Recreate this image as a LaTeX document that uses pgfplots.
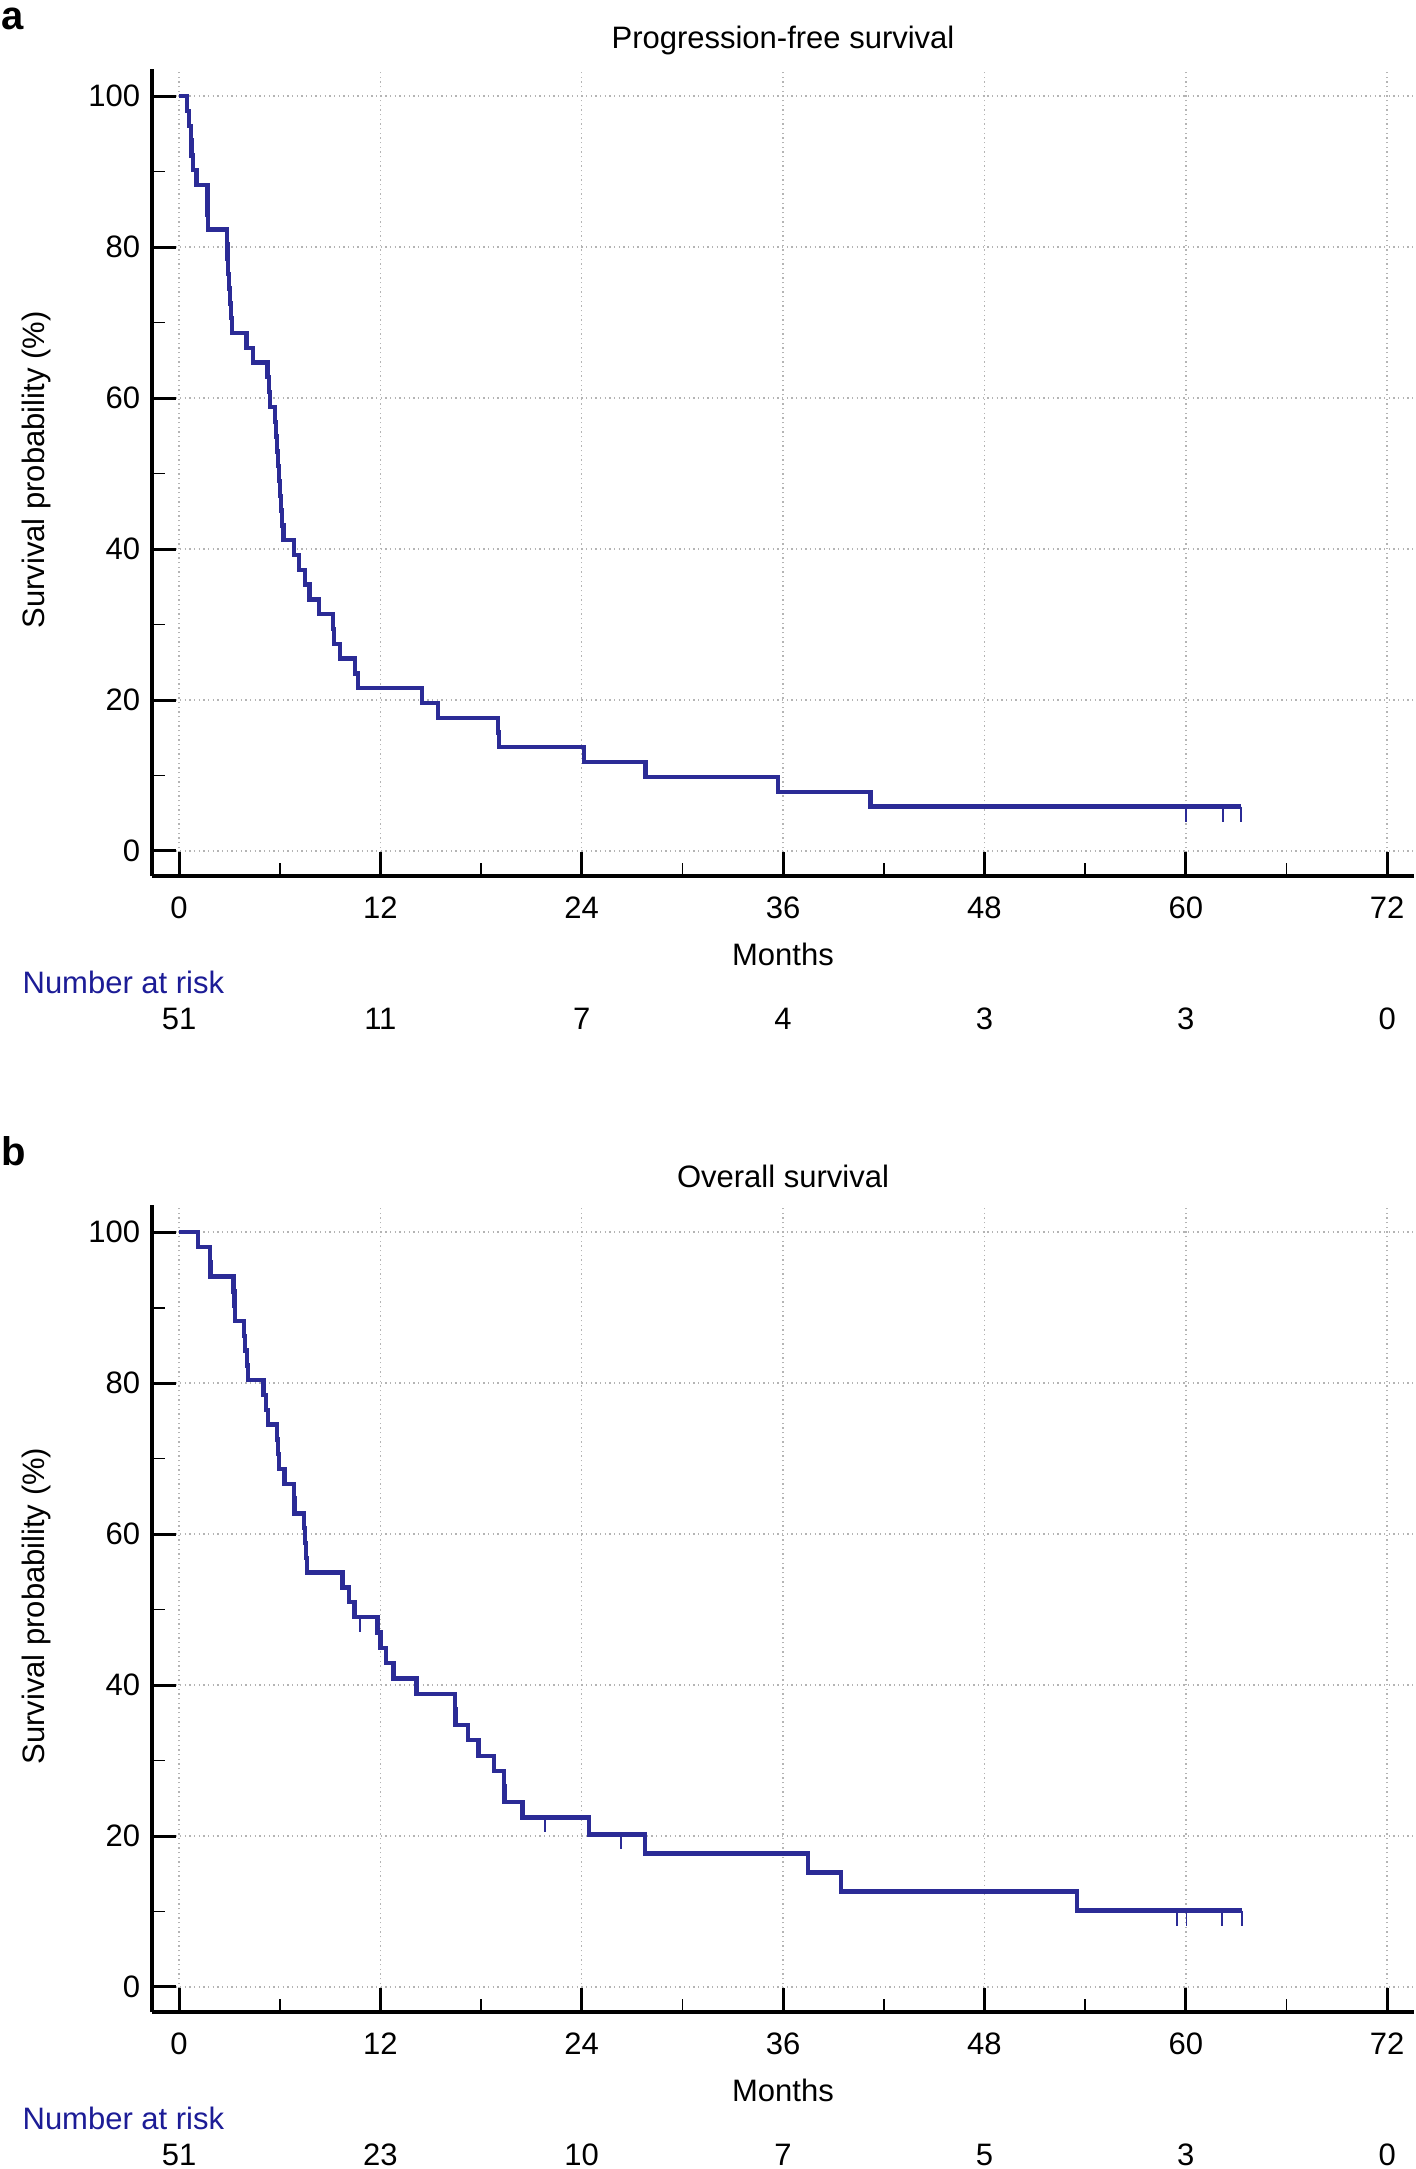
\documentclass[border=0pt]{standalone}
\usepackage{pgfplots}
\pgfplotsset{compat=1.18}
\usepackage{fontspec}
\setmainfont{Liberation Sans}

\definecolor{kmblue}{RGB}{43,43,150}
\definecolor{riskblue}{RGB}{28,28,150}
\definecolor{gridgray}{RGB}{180,180,180}
\newcommand\fs{\fontsize{9.3}{11}\selectfont}

% censoring tick, hanging below the curve
\pgfdeclareplotmark{cens}{%
  \pgfpathmoveto{\pgfpoint{0pt}{0pt}}%
  \pgfpathlineto{\pgfpoint{0pt}{-4.5pt}}%
  \pgfusepathqstroke}

\pgfplotsset{
  kmaxis/.style={
    scale only axis, width=378.6pt, height=242.1pt,
    xmin=-1.61, xmax=73.6, ymin=-3.32, ymax=103.6,
    axis x line*=bottom, axis y line*=left,
    axis line style={-, line width=1.2pt, black},
    xtick={0,12,...,72}, ytick={0,20,...,100},
    minor x tick num=1, minor y tick num=1,
    xtick pos=left, ytick pos=left,
    tick align=inside,
    major tick length=7.2pt, minor tick length=4pt,
    every major tick/.style={line width=0.9pt, black},
    every minor tick/.style={line width=0.5pt, black},
    grid=major,
    major grid style={densely dotted, gridgray, line width=0.45pt},
    clip=false,
    /pgf/number format/assume math mode=true,
    tick label style={font=\fs},
    xticklabel style={yshift=-2.7pt},
    label style={font=\fs},
    xlabel={Months},
    ylabel={Survival probability (\%)},
    xlabel style={at={(axis description cs:0.5,-0.0967)}, anchor=center},
    ylabel style={at={(axis description cs:-0.0919,0.503)}, anchor=center},
    every axis title/.style={at={(axis description cs:0.5,1.035)},
      anchor=center, font=\fs},
  },
  km/.style={const plot, kmblue, line width=1.3pt},
  cn/.style={only marks, mark=cens, kmblue, mark options={line width=0.55pt}},
}

\pgfplotstableread{
t S
0 100
0.47 98.04
0.60 96.08
0.70 94.12
0.75 92.16
0.85 90.20
1.05 88.24
1.69 86.27
1.70 84.31
1.72 82.35
2.84 80.39
2.88 78.43
2.92 76.47
2.97 74.51
3.02 72.55
3.08 70.59
3.14 68.63
4.03 66.67
4.39 64.71
5.28 62.75
5.38 60.78
5.42 58.82
5.72 56.86
5.78 54.90
5.84 52.94
5.90 50.98
5.96 49.02
6.02 47.06
6.08 45.10
6.15 43.14
6.22 41.18
6.85 39.22
7.17 37.25
7.50 35.29
7.77 33.33
8.36 31.37
9.16 29.41
9.25 27.45
9.60 25.49
10.49 23.53
10.65 21.57
14.48 19.61
15.45 17.65
19.00 15.69
19.05 13.73
24.12 11.76
27.80 9.80
35.70 7.84
41.20 5.88
63.30 5.88
}\pfs

\pgfplotstableread{
t S
0 100
1.15 98.04
1.85 96.08
1.87 94.12
3.24 92.16
3.30 90.20
3.34 88.24
3.87 86.27
3.95 84.31
4.05 82.35
4.13 80.39
5.03 78.43
5.20 76.47
5.30 74.51
5.82 72.55
5.90 70.59
5.95 68.63
6.28 66.67
6.85 64.71
6.88 62.75
7.45 60.78
7.50 58.82
7.55 56.86
7.62 54.90
9.75 52.94
10.13 50.98
10.45 49.02
11.82 46.98
12.00 44.94
12.34 42.90
12.78 40.85
14.16 38.81
16.45 36.77
16.48 34.72
17.24 32.68
17.84 30.64
18.77 28.60
19.37 26.55
19.40 24.51
20.48 22.47
24.45 20.22
27.77 17.69
37.50 15.16
39.46 12.63
53.50 10.11
63.35 10.11
}\os

\begin{document}
\begin{tikzpicture}
\useasboundingbox (0pt,0pt) rectangle (424.8pt,-650.7pt);

\node[anchor=base west, inner sep=0pt, font=\bfseries\fontsize{12}{12}\selectfont] at (0.3pt,-8.7pt) {a};
\node[anchor=base west, inner sep=0pt, font=\bfseries\fontsize{12}{12}\selectfont] at (0.3pt,-349.5pt) {b};

% a: progression-free survival
\begin{axis}[kmaxis, at={(45.6pt,-262.8pt)}, anchor=south west,
  title={Progression-free survival}]
\addplot[km] table[x=t, y=S] {\pfs};
\addplot[cn] coordinates {(60.0,5.88) (62.2,5.88) (63.3,5.88)};
\node[riskblue, anchor=west, inner sep=0pt, font=\fs] at (axis cs:-9.36,-17.37) {Number at risk};
\node[font=\fs] at (axis cs:0,-22.3) {51};
\node[font=\fs] at (axis cs:12,-22.3) {11};
\node[font=\fs] at (axis cs:24,-22.3) {7};
\node[font=\fs] at (axis cs:36,-22.3) {4};
\node[font=\fs] at (axis cs:48,-22.3) {3};
\node[font=\fs] at (axis cs:60,-22.3) {3};
\node[font=\fs] at (axis cs:72,-22.3) {0};
\end{axis}

% b: overall survival
\begin{axis}[kmaxis, at={(45.6pt,-603.6pt)}, anchor=south west,
  title={Overall survival}]
\addplot[km] table[x=t, y=S] {\os};
\addplot[cn] coordinates {(10.79,49.02) (21.81,22.47) (26.32,20.22)
  (59.46,10.11) (60.04,10.11) (62.17,10.11) (63.35,10.11)};
\node[riskblue, anchor=west, inner sep=0pt, font=\fs] at (axis cs:-9.36,-17.37) {Number at risk};
\node[font=\fs] at (axis cs:0,-22.3) {51};
\node[font=\fs] at (axis cs:12,-22.3) {23};
\node[font=\fs] at (axis cs:24,-22.3) {10};
\node[font=\fs] at (axis cs:36,-22.3) {7};
\node[font=\fs] at (axis cs:48,-22.3) {5};
\node[font=\fs] at (axis cs:60,-22.3) {3};
\node[font=\fs] at (axis cs:72,-22.3) {0};
\end{axis}
\end{tikzpicture}
\end{document}
